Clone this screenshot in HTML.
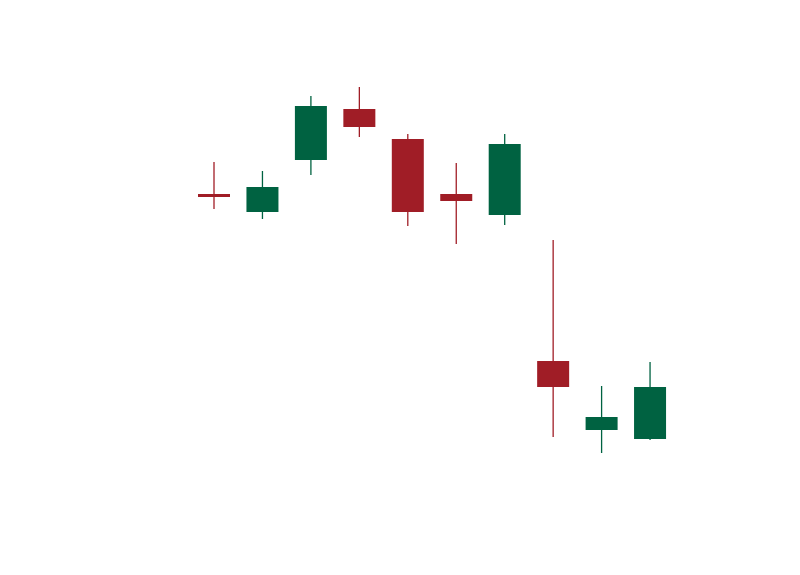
<!DOCTYPE html>
<html>
<head>
<meta charset="utf-8">
<style>
  html,body{margin:0;padding:0;background:#fff;}
  svg{display:block;font-family:"Liberation Sans",sans-serif;}
</style>
</head>
<body>
<svg id="chart" width="800" height="575" viewBox="0 0 800 575">
  <g id="candles"></g>
</svg>
<script>
const categories = ["c1","c2","c3","c4","c5","c6","c7","c8","c9","c10"];
const openVals  = [306, 288, 340, 391, 361, 306, 285, 139, 70, 61];
const closeVals = [303, 313, 394, 373, 288, 299, 356, 113, 83, 113];
const highVals  = [338, 329, 404, 413, 366, 337, 366, 260, 114, 138];
const lowVals   = [291, 281, 325, 363, 274, 256, 275, 63, 47, 60];

const x0 = 214, step = 48.45, bodyW = 32;
function xScale(i){ return x0 + i*step; }
function yScale(v){ return 500 - v; }

const g = document.getElementById('candles');
const NS = "http://www.w3.org/2000/svg";
categories.forEach((c,i)=>{
  const up = closeVals[i] >= openVals[i];
  const col = up ? "#006241" : "#A01D26";
  const cx = xScale(i);
  const wick = document.createElementNS(NS,'line');
  
  
  wick.setAttribute('x1', cx); wick.setAttribute('x2', cx);
  wick.setAttribute('y1', yScale(highVals[i])); wick.setAttribute('y2', yScale(lowVals[i]));
  wick.setAttribute('stroke', col); wick.setAttribute('stroke-width', 1.3);
  g.appendChild(wick);
  const top = yScale(Math.max(openVals[i], closeVals[i]));
  const bot = yScale(Math.min(openVals[i], closeVals[i]));
  const body = document.createElementNS(NS,'rect');
  
  
  body.setAttribute('x', cx - bodyW/2);
  body.setAttribute('y', top);
  body.setAttribute('width', bodyW);
  body.setAttribute('height', Math.max(bot - top, 2.5));
  body.setAttribute('fill', col);
  g.appendChild(body);
});
</script>
</body>
</html>
